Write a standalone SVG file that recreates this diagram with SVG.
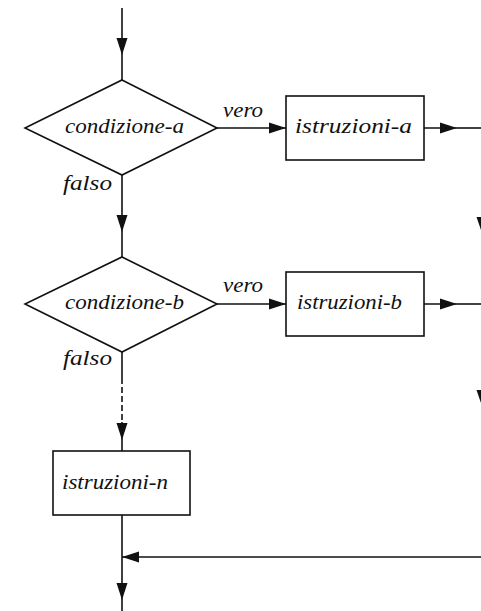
<svg xmlns="http://www.w3.org/2000/svg" width="481" height="611" viewBox="0 0 481 611">
<style>
.s{fill:#fff;stroke:#111;stroke-width:1.6}
.c{fill:none;stroke:#111;stroke-width:1.6}
</style>
<defs>
<marker id="ah" markerWidth="17" markerHeight="12" refX="17" refY="6" orient="auto" markerUnits="userSpaceOnUse">
<path d="M0,0.5 L17,6 L0,11.5 Z" fill="#111"/>
</marker>
</defs>
<g id="connectors">
<path class="c" d="M122,8 V55" marker-end="url(#ah)"/>
<path class="c" d="M122,55 V80"/>
<path class="c" d="M217,128 H286" marker-end="url(#ah)"/>
<path class="c" d="M424,128 H457" marker-end="url(#ah)"/>
<path class="c" d="M457,128 H481"/>
<path class="c" d="M122,175 V232" marker-end="url(#ah)"/>
<path class="c" d="M122,232 V257"/>
<path class="c" d="M217,304 H286" marker-end="url(#ah)"/>
<path class="c" d="M424,304 H457" marker-end="url(#ah)"/>
<path class="c" d="M457,304 H481"/>
<path class="c" d="M122,352 V378"/>
<path class="c" d="M122,378 V422" stroke-dasharray="6,3"/>
<path class="c" d="M122,422 V440" marker-end="url(#ah)"/>
<path class="c" d="M122,440 V451"/>
<path class="c" d="M481,557 H122" marker-end="url(#ah)"/>
<path class="c" d="M122,515 V600" marker-end="url(#ah)"/>
<path class="c" d="M122,600 V611"/>
<path d="M476.5,217 L487.5,217 L482,233 Z" fill="#111"/>
<path d="M476.5,390 L487.5,390 L482,406 Z" fill="#111"/>
</g>
<g font-family="Liberation Serif, serif" font-style="italic" font-size="22" fill="#111">
<g id="cond-a">
<polygon class="s" points="122,80 217,128 122,175 25,128"/>
<text x="65" y="133" textLength="119" lengthAdjust="spacingAndGlyphs">condizione-a</text>
</g>
<g id="istr-a">
<rect class="s" x="286" y="96" width="138" height="64"/>
<text x="295" y="133" textLength="117" lengthAdjust="spacingAndGlyphs">istruzioni-a</text>
</g>
<g id="cond-b">
<polygon class="s" points="122,257 217,304 122,352 25,304"/>
<text x="65" y="309" textLength="119" lengthAdjust="spacingAndGlyphs">condizione-b</text>
</g>
<g id="istr-b">
<rect class="s" x="286" y="272" width="138" height="64"/>
<text x="297" y="309" textLength="105" lengthAdjust="spacingAndGlyphs">istruzioni-b</text>
</g>
<g id="istr-n">
<rect class="s" x="53" y="451" width="137" height="64"/>
<text x="62" y="489" textLength="106" lengthAdjust="spacingAndGlyphs">istruzioni-n</text>
</g>
<g id="labels">
<text x="223" y="117" textLength="40" lengthAdjust="spacingAndGlyphs">vero</text>
<text x="63" y="190" textLength="49" lengthAdjust="spacingAndGlyphs">falso</text>
<text x="223" y="292" textLength="40" lengthAdjust="spacingAndGlyphs">vero</text>
<text x="63" y="365" textLength="49" lengthAdjust="spacingAndGlyphs">falso</text>
</g>
</g>
</svg>
